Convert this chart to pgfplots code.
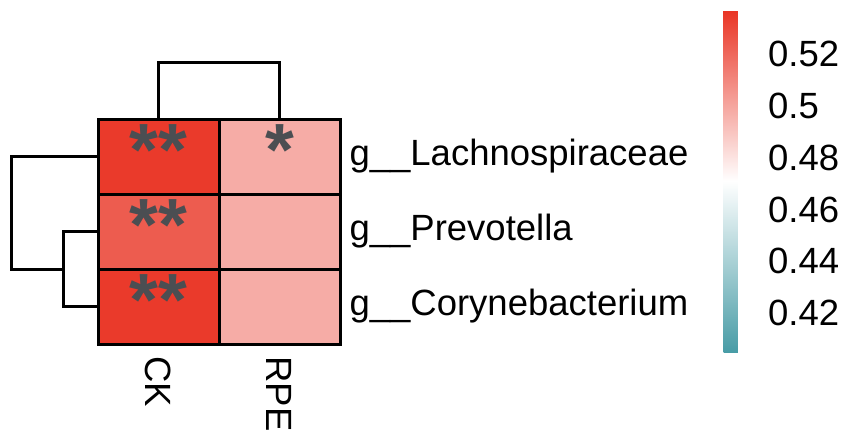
\documentclass[border=0pt]{standalone}
\usepackage{pgfplots}
\pgfplotsset{compat=1.18}
\usepackage{fontspec}
\setmainfont{Liberation Sans}

\definecolor{stargray}{RGB}{75,78,82}
\pgfplotsset{
  colormap={rdtl}{rgb255(0)=(72,156,166) rgb255(1)=(255,255,255) rgb255(2)=(233,52,36)}
}

\pgfplotstableread{
x   y   v
0.5 0.5 0.535
1.5 0.5 0.498
0.5 1.5 0.524
1.5 1.5 0.498
0.5 2.5 0.535
1.5 2.5 0.498
}\cells

\pgfplotstableread{
x   y    s
0.5 2.58 **
1.5 2.58 *
0.5 1.58 **
0.5 0.58 **
}\stars

\begin{document}
\begin{tikzpicture}
\begin{axis}[
  scale only axis,
  width=242pt, height=225pt,
  xmin=0, xmax=2, ymin=0, ymax=3,
  clip=false,
  axis line style={draw=none},
  major tick length=0pt,
  xtick={0.5,1.5}, xticklabels={CK,RPE},
  xticklabel style={rotate=-90, anchor=west},
  xticklabel shift=9pt,
  ytick={0.5,1.5,2.5},
  yticklabels={g\_\_Corynebacterium,g\_\_Prevotella,g\_\_Lachnospiraceae},
  yticklabel pos=right,
  yticklabel style={anchor=west},
  yticklabel shift=6pt,
  tick label style={font=\fontsize{36.5}{44}\selectfont},
  colormap name=rdtl,
  point meta min=0.405, point meta max=0.537,
  colorbar,
  colorbar style={
    at={(parent axis.south west)}, anchor=south west,
    xshift=617pt, yshift=-8pt,
    scale only axis, width=37pt, height=342pt,
    axis line style={draw=none},
    major tick length=0pt,
    ytick={0.42,0.44,0.46,0.48,0.5,0.52},
    yticklabels={0.42,0.44,0.46,0.48,0.5,0.52},
    yticklabel pos=right,
    yticklabel shift=0pt,
    yticklabel style={anchor=west, xshift=4pt, font=\fontsize{36.5}{44}\selectfont},
  },
]
% heatmap cells
\addplot[matrix plot*, mesh/cols=2, point meta=explicit, draw=black, line width=3pt]
  table[x=x, y=y, meta=v] {\cells};
% significance stars
\addplot[draw=none, mark=none, nodes near coords, point meta=explicit symbolic,
  nodes near coords style={anchor=center, text=stargray, font=\fontsize{74}{80}\selectfont\bfseries}]
  table[x=x, y=y, meta=s] {\stars};
% row dendrogram
\addplot[black, line width=3pt] coordinates {(0,2.5) (-0.711,2.5) (-0.711,1.0) (-0.289,1.0)};
\addplot[black, line width=3pt] coordinates {(0,1.5) (-0.289,1.5) (-0.289,0.5) (0,0.5)};
% column dendrogram
\addplot[black, line width=3pt] coordinates {(0.5,3) (0.5,3.75) (1.5,3.75) (1.5,3)};
\path (axis cs:-0.81,-1.307) rectangle (axis cs:6.215,4.587);
\end{axis}
\end{tikzpicture}
\end{document}
